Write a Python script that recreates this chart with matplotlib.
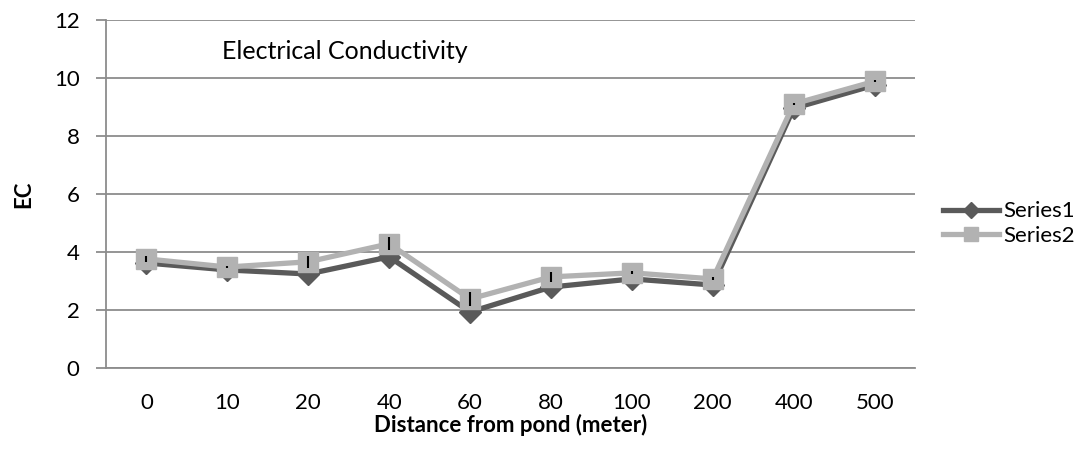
import matplotlib
matplotlib.use('Agg')
import matplotlib.pyplot as plt
import numpy as np

# data
distance = ['0', '10', '20', '40', '60', '80', '100', '200', '400', '500']
series1 = [3.62, 3.38, 3.24, 3.83, 1.93, 2.79, 3.07, 2.86, 8.95, 9.75]
series2 = [3.76, 3.48, 3.66, 4.28, 2.38, 3.14, 3.28, 3.07, 9.1, 9.88]
err2 = [0.1, 0.02, 0.2, 0.22, 0.23, 0.17, 0.05, 0.05, 0.04, 0.04]

plt.rcParams['font.family'] = ['Lato', 'DejaVu Sans']

fig = plt.figure(figsize=(10.86, 4.54), dpi=100)
ax = fig.add_axes([0.0976, 0.1894, 0.745, 0.767])

x = np.arange(len(distance))

ax.plot(x, series1, color='#5a5a5a', linewidth=3.8, marker='D', markersize=11,
        label='Series1', zorder=3)
ax.plot(x, series2, color='#b2b2b2', linewidth=3.8, marker='s', markersize=14,
        label='Series2', zorder=4)
ax.errorbar(x, series2, yerr=[err2, err2], fmt='none', ecolor='black',
            elinewidth=1.5, capsize=0, zorder=5)

ax.set_xlim(-0.5, len(distance) - 0.5)
ax.set_ylim(0, 12)
ax.set_yticks(range(0, 13, 2))
ax.set_xticks(x)
ax.set_xticklabels(distance)

ax.grid(axis='y', color='#8c8c8c', linewidth=1.3)
ax.set_axisbelow(True)
for s in ['top', 'right']:
    ax.spines[s].set_visible(False)
for s in ['left', 'bottom']:
    ax.spines[s].set_color('#8c8c8c')
    ax.spines[s].set_linewidth(1.3)
ax.tick_params(axis='y', length=7, color='#8c8c8c', width=1.3, labelsize=16, pad=12)
ax.tick_params(axis='x', length=0, labelsize=16, pad=18)

ax.set_xlabel('Distance from pond (meter)', fontsize=16, fontweight='bold', labelpad=1)
ax.set_ylabel('EC', fontsize=16, fontweight='bold', labelpad=14)

ax.text(0.93, 10.9, 'Electrical Conductivity', fontsize=18, va='center')

ax.legend(loc='center left', bbox_to_anchor=(1.035, 0.415), frameon=False,
          fontsize=16, handlelength=2.5, handletextpad=0.2, labelspacing=0.2,
          borderpad=0, borderaxespad=0, markerscale=0.75)

plt.savefig('out.png', dpi=100)
